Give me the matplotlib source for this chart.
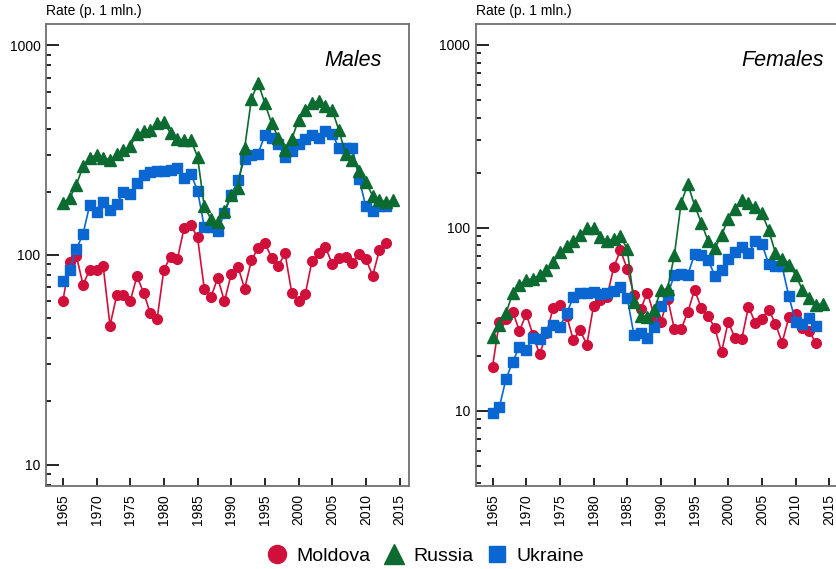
import matplotlib
matplotlib.use('Agg')
import matplotlib.pyplot as plt
from matplotlib import ticker
from matplotlib.lines import Line2D

plt.rcParams['font.family'] = ['Liberation Sans', 'DejaVu Sans']

# Rates per 1 million
years_m = list(range(1965, 2014))
years_r = list(range(1965, 2015))

males_moldova = [60, 92, 99, 72, 85, 85, 88, 46, 64, 64.5,
                 60, 79, 66, 52.5, 49.5, 85, 98, 95, 134, 138.5,
                 121, 69, 63, 77.5, 60, 81, 87.5, 69, 94, 108,
                 113.5, 97, 88.5, 101.5, 65.5, 60, 65, 93.5, 102, 108.5,
                 90.5, 96.5, 98, 91, 101, 95.5, 79.5, 105, 113.5]
males_ukraine = [75, 85, 106, 126, 173, 160, 178, 164, 175, 199,
                 195, 221, 239, 247, 250, 252, 255, 258, 233, 244,
                 202, 136, 136, 130, 158, 192, 228, 287, 298, 304,
                 372, 359, 336, 292, 314, 339, 356, 372, 359, 391,
                 377, 323, 322, 324, 229, 170, 162, 171, 171]
males_russia = [177, 186, 215, 264, 290, 299, 290, 283, 301, 315,
                329, 375, 388, 395, 426, 428, 380, 356, 352, 354,
                293, 170, 148, 143, 162, 192, 208, 324, 553, 662,
                527, 423, 362, 315, 356, 441, 488, 528, 541, 513,
                489, 392, 301, 284, 250, 222, 191, 183, 178, 182]

females_moldova = [17.4, 30.5, 31.5, 34.8, 27.2, 33.8, 26, 20.3, 26.5, 36.3,
                   37.7, 33, 24.3, 27.6, 22.9, 37.4, 40.4, 42, 61, 75.2,
                   59.5, 42.9, 35.9, 44.2, 33, 30.5, 41, 27.9, 27.9, 34.6,
                   45.8, 36.3, 33, 28.3, 20.9, 30.6, 24.9, 24.6, 37, 30.3,
                   31.8, 35.7, 29.9, 23.5, 32.4, 33.7, 28.4, 27.4, 23.4]
females_ukraine = [9.75, 10.4, 14.9, 18.5, 22.4, 21.5, 25.1, 24.7, 26.9, 29.2,
                   28.8, 34.1, 41.6, 44, 44.2, 44.4, 43.2, 43.9, 44.8, 47.7,
                   41.3, 25.9, 26.5, 25.1, 28.8, 37.4, 42.9, 55.3, 56, 55.3,
                   71.8, 70.5, 66.8, 54.7, 58.9, 67.6, 74.1, 78.3, 72.7, 84.1,
                   81.4, 63.5, 61.4, 61.4, 42.1, 30.7, 29.8, 32.1, 29.1]
females_russia = [25.4, 29.2, 34.1, 44, 48.7, 51.9, 52.5, 55.3, 58.9, 64.6,
                  73.3, 79, 84.1, 91.6, 99.2, 99.2, 89, 84.5, 86.7, 89.6,
                  76.4, 39.2, 32.7, 32.4, 35.7, 45.5, 46.5, 70.8, 136.5, 173,
                  132.5, 106.5, 84.5, 77, 91, 112, 127, 141, 137, 130,
                  120, 97, 73, 67.4, 62.4, 55.3, 45.8, 41.5, 37.9, 38.4]

x_ticks = list(range(1965, 2020, 5))
y_ticks = [10, 100, 1000]

red = '#d0103a'
green = '#0b6b30'
blue = '#0a66d0'

fig = plt.figure(figsize=(8.36, 5.69), dpi=100)
ax_m = fig.add_axes([46/836, 83/569, 363/836, 462/569])
ax_f = fig.add_axes([475.7/836, 83/569, 363/836, 462/569])


def draw_panel(ax, moldova, russia, ukraine, ylim, title, title_x):
    ax.plot(years_m, moldova, color=red, marker='o', markersize=7, lw=1.2, zorder=2)
    ax.plot(years_m, ukraine, color=blue, marker='s', markersize=7, lw=1.2, zorder=3)
    ax.plot(years_r, russia, color=green, marker='^', markersize=8, lw=1.2, zorder=4)
    ax.set_yscale('log')
    ax.set_ylim(*ylim)
    ax.set_xlim(1962.5, 2016.4)
    ax.set_xticks(x_ticks)
    ax.set_xticklabels([str(y) for y in x_ticks], rotation=90, fontsize=10)
    ax.yaxis.set_major_locator(ticker.FixedLocator(y_ticks))
    ax.yaxis.set_major_formatter(ticker.FixedFormatter([str(v) for v in y_ticks]))
    ax.yaxis.set_minor_locator(ticker.LogLocator(base=10, subs=range(2, 10)))
    ax.yaxis.set_minor_formatter(ticker.NullFormatter())
    ax.tick_params(axis='y', which='major', direction='in', length=9.5, width=1.2, labelsize=10, pad=4)
    ax.tick_params(axis='y', which='minor', direction='in', length=3.6, width=1.2)
    ax.tick_params(axis='x', which='major', direction='in', length=6, width=1.2, pad=6)
    ax.tick_params(axis='x', which='minor', bottom=False)
    for s in ax.spines.values():
        s.set_color('#707070')
        s.set_linewidth(1.3)
    ax.text(0, 1.012, 'Rate (p. 1 mln.)', transform=ax.transAxes, fontsize=10, ha='left', va='bottom')
    ax.text(title_x, 0.922, title, transform=ax.transAxes, fontsize=15.5, style='italic',
            ha='right', va='center')


draw_panel(ax_m, males_moldova, males_russia, males_ukraine, (7.9, 1260), 'Males', 0.926)
draw_panel(ax_f, females_moldova, females_russia, females_ukraine, (3.87, 1300), 'Females', 0.958)

# Legend below both panels
handles = [Line2D([], [], color=red, marker='o', ls='none', markersize=13),
           Line2D([], [], color=green, marker='^', ls='none', markersize=14),
           Line2D([], [], color=blue, marker='s', ls='none', markersize=12)]
fig.legend(handles, ['Moldova', 'Russia', 'Ukraine'], loc='center', bbox_to_anchor=(0.508, 1 - 556/569),
           ncol=3, frameon=False, fontsize=14, handletextpad=0.4, columnspacing=0.6, handlelength=1.2)

fig.savefig('out.png', dpi=100)
